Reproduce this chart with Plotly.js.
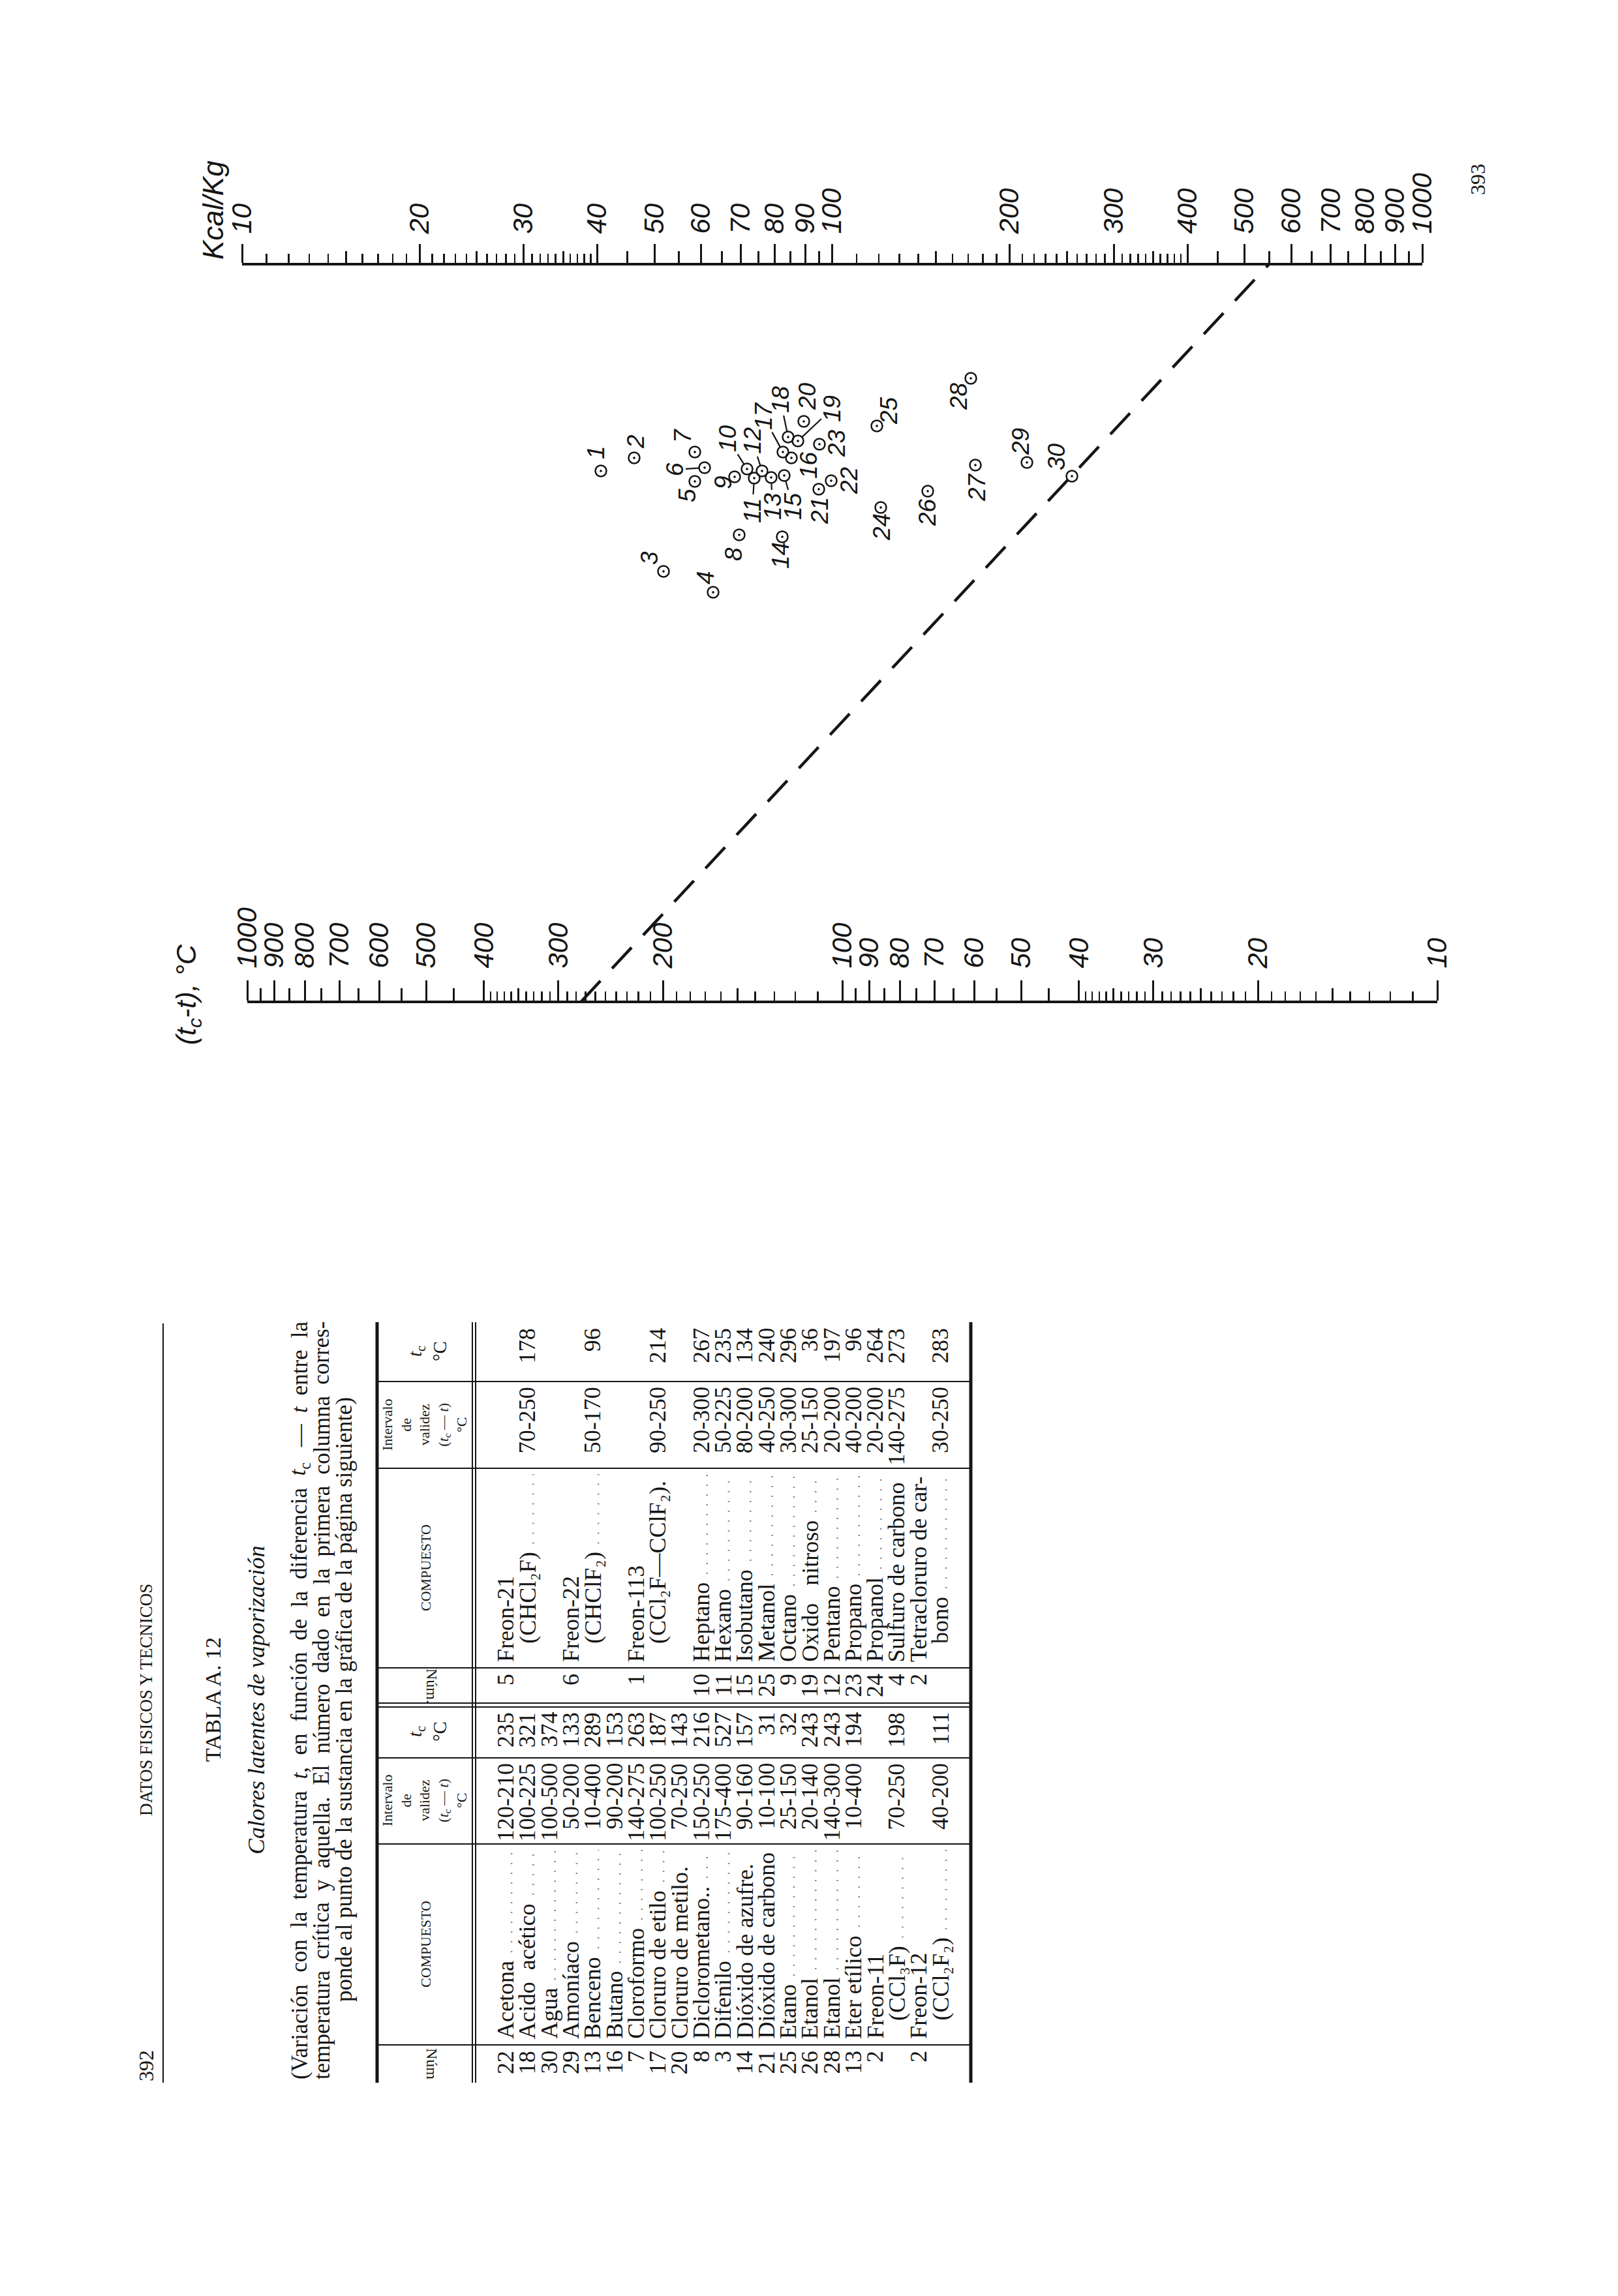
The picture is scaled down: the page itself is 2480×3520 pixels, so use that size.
<!DOCTYPE html>
<html><head><meta charset="utf-8">
<script src="https://cdn.plot.ly/plotly-3.0.1.min.js"></script>
<style>html,body{margin:0;padding:0;background:#fff}</style>
</head><body>
<div id="g" style="width:2480px;height:3520px"></div>
<script>
// ================= DATA =================
// Nomograph scale (t_c - t), °C  (log scale, labelled ticks)
const tScaleTicks  = [1000,900,800,700,600,500,400,300,200,100,90,80,70,60,50,40,30,20,10];
const tScaleLabels = ['1000','900','800','700','600','500','400','300','200','100','90','80','70','60','50','40','30','20','10'];
const tMedTicks    = [950,850,750,650,550,450,350,150,95,85,75,65,55,45,35,25,15];
const tSmallTicks  = [390,380,370,360,340,330,320,310,290,280,270,260,250,240,230,220,210,190,180,170,160,140,130,120,110,
                      39,38,37,36,34,33,32,31,29,28,27,26,24,23,22,21,19,18,17,16,14,13,12,11];
// Nomograph scale Kcal/Kg (log scale)
const qScaleTicks  = [10,20,30,40,50,60,70,80,90,100,200,300,400,500,600,700,800,900,1000];
const qScaleLabels = ['10','20','30','40','50','60','70','80','90','100','200','300','400','500','600','700','800','900','1000'];
const qMedTicks    = [15,25,35,45,55,65,75,85,95,150,250,350,450,550,650,750,850,950];
const qSmallTicks  = [11,12,13,14,16,17,18,19,21,22,23,24,26,27,28,29,31,32,33,34,36,37,38,39,
                      110,120,130,140,160,170,180,190,210,220,230,240,260,270,280,290,310,320,330,340,360,370,380,390];

// Substance reference points on the nomograph (page coordinates)
const pointIds = [1,2,3,4,5,6,7,8,9,10,11,12,13,14,15,16,17,18,19,20,21,22,23,24,25,26,27,28,29,30];
const pointX = [921,972,1017,1093,1065,1080,1065,1133,1126,1145,1156,1168,1182,1199,1202,1213,1200,1208,1223,1232,1255,1274,1256,1350,1344,1422,1495,1488,1574,1643];
const pointY = [722,702,876,908,738,717,693,820,731,719,733,722,732,823,729,702,693,670,676,646,750,737,681,778,653,753,713,580,709,730];
const labelX = [913,974,995,1081,1053,1034,1046,1124,1108,1115,1153,1153,1184,1196,1215,1239,1170,1196,1275,1237,1256,1301,1282,1351,1362,1421,1497,1469,1564,1619];
const labelY = [694,677,856,886,760,720,668,850,740,672,783,675,776,852,776,713,638,612,627,608,783,737,680,808,630,786,747,608,677,700];
const leaderIds = [6,10,11,12,13,15,17,18,19];

// Worked example (dashed line): (t_c - t) value and latent heat read on the scales
const exampleTcMinusT = 275;
const exampleKcalKg   = 550;

// Table A.12 – left half
const leftNum   = ['22','18','30','29','13','16','7','17','20','8','3','14','21','25','26','28','13','2','','2',''];
const leftName  = ['Acetona','Acido\u00a0\u00a0acético','Agua','Amoníaco','Benceno','Butano','Cloroformo','Cloruro de etilo','Cloruro de metilo.',
                   'Diclorometano..','Difenilo','Dióxido de azufre.','Dióxido de carbono','Etano','Etanol','Etanol','Eter etílico',
                   'Freon-11','(CCl₃F)','Freon-12','(CCl₂F₂)'];
const leftRange = ['120-210','100-225','100-500','50-200','10-400','90-200','140-275','100-250','70-250','150-250','175-400','90-160',
                   '10-100','25-150','20-140','140-300','10-400','','70-250','','40-200'];
const leftTc    = ['235','321','374','133','289','153','263','187','143','216','527','157','31','32','243','243','194','','198','','111'];
// Table A.12 – right half
const rightNum   = ['5','','','6','','','1','','','10','11','15','25','9','19','12','23','24','4','2',''];
const rightName  = ['Freon-21','(CHCl₂F)','','Freon-22','(CHClF₂)','','Freon-113','(CCl₂F—CClF₂).','',
                    'Heptano','Hexano','Isobutano','Metanol','Octano','Oxido\u00a0\u00a0\u00a0nitroso','Pentano','Propano','Propanol',
                    'Sulfuro de carbono','Tetracloruro de car-','bono'];
const rightRange = ['','70-250','','','50-170','','','90-250','','20-300','50-225','80-200','40-250','30-300','25-150','20-200','40-200',
                    '20-200','140-275','','30-250'];
const rightTc    = ['','178','','','96','','','214','','267','235','134','240','296','36','197','96','264','273','','283'];

// Page texts
const runningHead = 'DATOS FISICOS Y TECNICOS';
const pageLeft = '392', pageRight = '393';
const tableTitle = 'TABLA A. 12';
const tableSubtitle = 'Calores latentes de vaporización';
const paraLine1 = ['(Variación','con','la','temperatura','<i>t</i>,','en','función','de','la','diferencia','<i>t</i><sub>c</sub>','—','<i>t</i>','entre','la'];
const paraLine2 = ['temperatura','crítica','y','aquella.','El','número','dado','en','la','primera','columna','corres-'];
const paraLine3 = 'ponde al punto de la sustancia en la gráfica de la página siguiente)';

// ================= GEOMETRY / STYLE =================
const W = 2480, H = 3520;
const INK = '#151515';
const SERIF = '"Liberation Serif", "DejaVu Serif", serif';
const HAND = '"Liberation Sans", "DejaVu Sans", sans-serif';
const BODY = 36;
// scale placement (page px)
const T_X0 = 379, T_X1 = 2203, T_Y = 1536;   // (t_c-t) scale: 1000 at T_X0, 10 at T_X1
const Q_X0 = 371, Q_X1 = 2180, Q_Y = 405;    // Kcal/Kg scale: 10 at Q_X0, 1000 at Q_X1
function tPx(v){ return T_X0 + (3 - Math.log10(v)) / 2 * (T_X1 - T_X0); }
function qPx(v){ return Q_X0 + (Math.log10(v) - 1) / 2 * (Q_X1 - Q_X0); }

const annotations = [];
const shapes = [];
function ann(x, y, text, o){
  o = o || {};
  annotations.push({x:x, y:y, xref:'x', yref:'y', text:text, showarrow:false,
    textangle: o.angle !== undefined ? o.angle : -90,
    xanchor: o.xa || 'center', yanchor: o.ya || 'middle', align: o.align || 'center', borderpad:0,
    font:{family:o.family || SERIF, size:o.size || BODY, color:o.color || INK, style:o.style || 'normal'}});
}
function line(x0,y0,x1,y1,w,color,dash){ shapes.push({type:'line', xref:'x', yref:'y', x0:x0,y0:y0,x1:x1,y1:y1,
  line:{color:color||INK, width:w||2, dash:dash||'solid'}}); }

const cv = document.createElement('canvas').getContext('2d');
function measure(str, size, italic){
  cv.font = (italic ? 'italic ' : '') + size + 'px "Liberation Serif"';
  const plain = str.replace(/<sub>(.*?)<\/sub>/g, function(m, s){ return s.slice(0,1); }).replace(/<[^>]+>/g,'');
  return cv.measureText(plain).width;
}

// ================= PAGE 392: header + table =================
ann(224, 3167, pageLeft, {size:32});
ann(224, 2606, runningHead, {size:27});
line(250, 2029, 250, 3193, 2);
ann(326, 2606, tableTitle, {size:34});
ann(393, 2606, tableSubtitle, {size:36, style:'italic'});

// justified paragraph lines
function justify(words, xc, yStart, len, size){
  const ws = words.map(w => measure(w, size, false));
  const sum = ws.reduce((a,b)=>a+b,0);
  const gap = Math.max(size*0.2, (len - sum) / (words.length - 1));
  let y = yStart;
  words.forEach((w,i) => { ann(xc, y, w, {ya:'bottom', size:size}); y -= ws[i] + gap; });
}
justify(paraLine1, 459, 3189, 1162, 35);
justify(paraLine2, 493, 3189, 1162, 35);
ann(527, 2606, paraLine3, {size:35});

// table rules
const TB_TOP = 578, TB_HDR = 724, TB_BOT = 1488, TB_Y0 = 2027, TB_Y1 = 3193;
line(TB_TOP, TB_Y0, TB_TOP, TB_Y1, 5);
line(TB_HDR, TB_Y0, TB_HDR, TB_Y1, 2);
line(TB_HDR+5, TB_Y0, TB_HDR+5, TB_Y1, 2);
line(TB_BOT, TB_Y0, TB_BOT, TB_Y1, 5);
const colSeps = [2118, 2251, 2557, 2695, 2827, 3135];
colSeps.forEach(y => line(TB_TOP, y, TB_BOT, y, 2));
line(TB_TOP, 2611, TB_BOT, 2611, 2);
line(TB_TOP, 2617, TB_BOT, 2617, 2);

// headers
function header(numY, compY, intY, tcY, numTxt){
  ann(662, numY, numTxt, {angle:90, size:24});
  ann(652, compY, 'COMPUESTO', {size:22});
  ann(650, intY, 'Intervalo<br>de<br>validez<br>(<i>t</i><sub>c</sub> — <i>t</i>)<br>°C', {size:22});
  ann(655, tcY, '<i>t</i><sub>c</sub><br>°C', {size:29});
}
header(3164, 2981, 2761, 2655, 'Núm');
header(2585, 2404, 2185, 2072, 'Núm.');

const ROW0 = 775, ROWSTEP = 33.3;
function tableHalf(nums, names, ranges, tcs, g){
  names.forEach((nm, i) => {
    const x = ROW0 + i*ROWSTEP;
    if (nums[i]) ann(x, g.numTop, nums[i], {ya:'top'});
    const indent = (nm.charAt(0) === '(' || nm === 'bono') ? 28 : 0;
    if (nm) ann(x, g.nameStart - indent, nm, {ya:'bottom'});
    if (ranges[i]) {
      ann(x, g.rangeTop, ranges[i], {ya:'top'});
      // dotted leader from end of name to end of column
      const yFrom = g.nameStart - indent - measure(nm, BODY, false) - 14;
      if (yFrom - g.nameEnd > 20) line(x + 9, yFrom, x + 9, g.nameEnd, 2.6, '#8c8c8c', '2px,13px');
    }
    if (tcs[i]) ann(x, g.tcTop, tcs[i], {ya:'top'});
  });
}
tableHalf(leftNum, leftName, leftRange, leftTc, {numTop:3143, nameStart:3127, nameEnd:2836, rangeTop:2702, tcTop:2624});
tableHalf(rightNum, rightName, rightRange, rightTc, {numTop:2565, nameStart:2549, nameEnd:2260, rangeTop:2125, tcTop:2035});

// ================= PAGE 393: nomograph =================
ann(2265, 275, pageRight, {size:32});
ann(288, 1525, '(<i>t</i><sub>c</sub>-<i>t</i>), °C', {family:HAND, size:43, style:'italic'});
ann(326, 322, 'Kcal/Kg', {family:HAND, size:44, style:'italic'});

// point labels
pointIds.forEach((id, i) => ann(labelX[i], labelY[i], String(id), {family:HAND, size:37, style:'italic'}));

// leader lines from labels to points
const leadX = [], leadY = [];
leaderIds.forEach(id => {
  const i = pointIds.indexOf(id);
  const dx = pointX[i] - labelX[i], dy = pointY[i] - labelY[i];
  const d = Math.hypot(dx, dy), ux = dx/d, uy = dy/d;
  const hy = String(id).length > 1 ? 22 : 12, hx = 14;
  const s = Math.min(hx/Math.max(Math.abs(ux),1e-6), hy/Math.max(Math.abs(uy),1e-6)) + 3;
  leadX.push(labelX[i] + ux*s, pointX[i] - ux*9, null);
  leadY.push(labelY[i] + uy*s, pointY[i] - uy*9, null);
});

const traces = [
  {x: leadX, y: leadY, xaxis:'x', yaxis:'y', mode:'lines', line:{color:INK, width:2.2}, hoverinfo:'skip'},
  {x: pointX, y: pointY, xaxis:'x', yaxis:'y', mode:'markers', text: pointIds.map(String),
   marker:{symbol:'circle-open-dot', size:17, color:INK, line:{width:2.5, color:INK}}, hoverinfo:'text'},
  {x: [tPx(exampleTcMinusT), qPx(exampleKcalKg)], y: [T_Y, Q_Y], xaxis:'x', yaxis:'y', mode:'lines',
   line:{color:INK, width:4.5, dash:'44px,26px'}, hoverinfo:'skip'},
  // anchor traces so that the scale axes are drawn
  {x:[100], y:[-500], xaxis:'x2', yaxis:'y', mode:'markers', marker:{opacity:0}, hoverinfo:'skip'},
  {x:[100], y:[-500], xaxis:'x3', yaxis:'y', mode:'markers', marker:{opacity:0}, hoverinfo:'skip'},
  {x:[100], y:[-500], xaxis:'x4', yaxis:'y', mode:'markers', marker:{opacity:0}, hoverinfo:'skip'},
  {x:[100], y:[-500], xaxis:'x5', yaxis:'y', mode:'markers', marker:{opacity:0}, hoverinfo:'skip'}
];

function scaleAxis(x0, x1, yPx, rng, vals, txt, len, minorVals, standoff, withLine){
  const ax = {type:'log', domain:[x0/W, x1/W], anchor:'free', position:1 - yPx/H, side:'top',
    range:rng, autorange:false, tickmode:'array', tickvals:vals, ticks:'outside', ticklen:len, tickwidth:3,
    tickcolor:INK, showgrid:false, zeroline:false, fixedrange:true, automargin:false,
    showline:!!withLine, linewidth:4, linecolor:INK, showticklabels:!!txt};
  if (txt) { ax.ticktext = txt; ax.tickangle = -90; ax.ticklabelstandoff = standoff;
    ax.tickfont = {family:HAND, size:42, color:INK, style:'italic'}; }
  if (minorVals) ax.minor = {tickmode:'array', tickvals:minorVals, ticks:'outside', ticklen:14, tickwidth:2.5, tickcolor:INK, showgrid:false};
  return ax;
}

const layout = {
  width:W, height:H, margin:{l:0,r:0,t:0,b:0}, paper_bgcolor:'#ffffff', plot_bgcolor:'rgba(0,0,0,0)', showlegend:false,
  xaxis:{range:[0,W], domain:[0,1], visible:false, fixedrange:true},
  yaxis:{range:[H,0], domain:[0,1], visible:false, fixedrange:true},
  xaxis2: scaleAxis(T_X0, T_X1, T_Y, [3,1], tScaleTicks, tScaleLabels, 31, tSmallTicks, 10, true),
  xaxis3: scaleAxis(T_X0, T_X1, T_Y, [3,1], tMedTicks, null, 21, null, 0, false),
  xaxis4: scaleAxis(Q_X0, Q_X1, Q_Y, [1,3], qScaleTicks, qScaleLabels, 29, qSmallTicks, 7, true),
  xaxis5: scaleAxis(Q_X0, Q_X1, Q_Y, [1,3], qMedTicks, null, 20, null, 0, false),
  shapes: shapes,
  annotations: annotations
};

Plotly.newPlot('g', traces, layout, {staticPlot:true, displayModeBar:false});
</script>
</body></html>
